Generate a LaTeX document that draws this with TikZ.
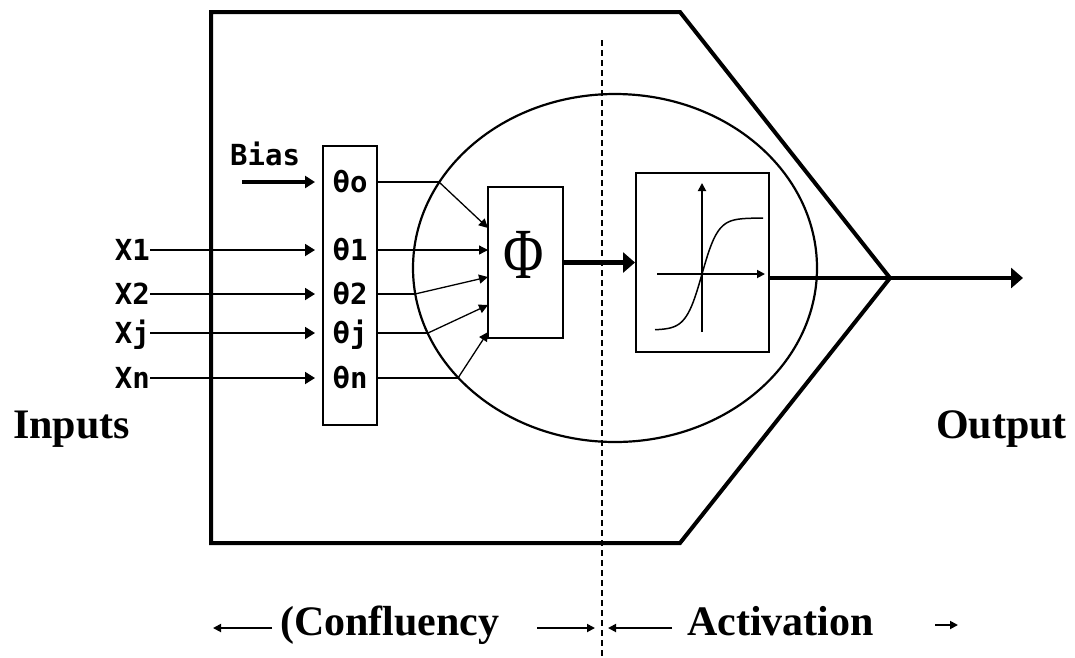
\documentclass[tikz,border=0pt]{standalone}
\usepackage{fontspec}
\setmainfont{Liberation Serif}
\newfontfamily\pixfont{DejaVu Sans Mono}
\usetikzlibrary{shapes.geometric,arrows.meta}

\begin{document}
\begin{tikzpicture}[x=1pt, y=-1pt,
  wire/.style={line width=1.8pt},
  heavy/.style={line width=4.5pt},
  arr/.style={-{Triangle[length=10pt,width=12pt]}},
  arrbig/.style={-{Triangle[length=12pt,width=20pt]}},
  arrsmall/.style={-{Triangle[length=8pt,width=8pt]}},
  box/.style={draw, line width=2pt, inner sep=0pt},
  pix/.style={font=\fontsize{29}{29}\pixfont\bfseries, inner sep=0pt, text height=21pt, text depth=0pt},
  big/.style={font=\fontsize{42}{42}\selectfont\bfseries, inner sep=0pt}]
\useasboundingbox (0,0) rectangle (1075,657);

% cell outline
\coordinate (tip) at (890,278);
\draw[line width=4pt, line join=miter] (211,12) -- (680,12) -- (tip) -- (680,543) -- (211,543) -- cycle;
\node[ellipse, draw, line width=2.2pt, minimum width=404pt, minimum height=348pt, inner sep=0pt] (cell) at (615,268) {};

% split line
\coordinate (splittop) at (602,40);
\coordinate (splitbot) at (602,657);
\draw[line width=1.5pt, dash pattern=on 6pt off 4pt] (splittop) -- (splitbot);

% weights and sum
\node[box, minimum width=54pt, minimum height=279pt] (wbox) at (350,285.5) {};
\node[box, minimum width=75pt, minimum height=151pt] (phi) at (525.5,262.5) {};
\node[inner sep=0pt] (phisym) at (524,255) {\scalebox{1.15}[1.5]{\fontsize{48}{48}\selectfont Φ}};

\node[pix, anchor=base west] (bias) at (230,165) {Bias};
\coordinate (bstart) at (242,182);
\draw[heavy, arr, shorten >=7pt] (bstart) -- (wbox.west |- bstart);

\foreach \i/\y/\ex/\py in {o/182/439/228, 1/250/440/250, 2/294/415/277, j/333/428/305, n/378/458/332} {
  \node[pix] (th\i) at (350,\y) {θ\i};
  \coordinate (e\i) at (\ex,\y);
  \coordinate (p\i) at (488,\py);
  \draw[wire] (wbox.east |- th\i) -- (e\i);
  \draw[line width=1.3pt, -{Triangle[length=9pt,width=9pt]}] (e\i) -- (p\i);
}
\foreach \i/\y in {1/250, 2/294, j/333, n/378} {
  \node[pix, anchor=east] (x\i) at (150,\y) {X\i};
  \draw[wire, arr, shorten >=7pt] (x\i) -- (wbox.west |- x\i);
}

% activation
\node[box, minimum width=133pt, minimum height=179pt] (act) at (702.5,262.5) {};
\coordinate (ay0) at (702,332);
\coordinate (ay1) at (702,183);
\coordinate (ax0) at (657,274);
\coordinate (ax1) at (765,274);
\draw[wire, arrsmall] (ay0) -- (ay1);
\draw[wire, arrsmall] (ax0) -- (ax1);
\draw[line width=1.5pt] plot[domain=655:763, samples=60] (\x, {274-56*tanh((\x-702)/16)});

\draw[heavy, arrbig] (phi.east) -- (act.west);
\coordinate (out) at (1023,278);
\draw[heavy, arrbig] (act.east |- tip) -- (tip) -- (out);

% labels
\node[big, anchor=base west] (inputs) at (13,438) {Inputs};
\node[big, anchor=base east] (output) at (1067,438) {Output};
\node[big, anchor=base west] (conf) at (280,635) {(Confluency};
\node[big, anchor=base west] (actlab) at (687,635) {Activation};

\coordinate (c1) at (272,628);
\coordinate (c2) at (213,628);
\coordinate (c3) at (537,628);
\coordinate (c4) at (595,628);
\coordinate (c5) at (672,628);
\coordinate (c6) at (608,628);
\coordinate (c7) at (935,625);
\coordinate (c8) at (958,625);
\foreach \a/\b in {c1/c2, c3/c4, c5/c6, c7/c8}
  \draw[wire, arrsmall] (\a) -- (\b);
\end{tikzpicture}
\end{document}
